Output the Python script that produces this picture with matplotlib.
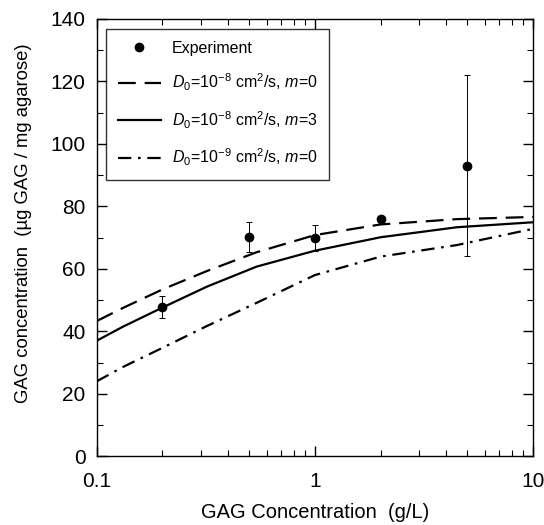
import matplotlib.pyplot as plt
import numpy as np

plt.rcParams['font.family'] = ['Liberation Sans', 'DejaVu Sans']
plt.rcParams['mathtext.fontset'] = 'custom'
plt.rcParams['mathtext.rm'] = 'Liberation Sans'
plt.rcParams['mathtext.it'] = 'Liberation Sans:italic'

# experimental points
exp_x = [0.2, 0.5, 1.0, 2.0, 5.0]
exp_y = [47.8, 70.3, 70.0, 76.0, 93.0]
exp_lo = [3.4, 5.0, 4.2, 1.0, 29.0]
exp_hi = [3.4, 4.7, 4.1, 1.0, 29.0]

# model curves
curve_x = [0.1, 0.132, 0.2, 0.32, 0.54, 1.0, 2.0, 4.47, 10.0]
dash_y = [43.3, 47.5, 53.4, 59.3, 65.3, 70.8, 74.2, 75.9, 76.6]
solid_y = [37.0, 41.5, 47.6, 54.3, 60.7, 65.8, 70.1, 73.3, 74.9]
dashdot_y = [24.0, 28.6, 34.7, 41.7, 49.1, 58.0, 63.9, 67.6, 72.8]

labels = ['Experiment',
          r'$D_0$=10$^{-8}$ cm$^2$/s, $m$=0',
          r'$D_0$=10$^{-8}$ cm$^2$/s, $m$=3',
          r'$D_0$=10$^{-9}$ cm$^2$/s, $m$=0']

fig = plt.figure(figsize=(5.44, 5.25), dpi=100)
ax = fig.add_axes([0.178, 0.131, 0.802, 0.833])

eb = ax.errorbar(exp_x, exp_y, yerr=[exp_lo, exp_hi], fmt='o', color='black',
                 markersize=6, elinewidth=0.7, capsize=2.5, capthick=0.7, zorder=5)
l1, = ax.plot(curve_x, dash_y, color='black', lw=1.6, dashes=(8, 4))
l2, = ax.plot(curve_x, solid_y, color='black', lw=1.6)
l3, = ax.plot(curve_x, dashdot_y, color='black', lw=1.6, dashes=(6, 3, 1.2, 3))

ax.set_xscale('log')
ax.set_xlim(0.1, 10)
ax.set_ylim(0, 140)
ax.set_yticks(np.arange(0, 141, 20))
ax.set_yticks(np.arange(0, 141, 10), minor=True)
ax.set_xticks([0.1, 1, 10])
ax.set_xticklabels(['0.1', '1', '10'])

ax.tick_params(which='both', direction='in', top=True, right=True, labelsize=15)
ax.tick_params(axis='x', which='both', pad=11)
ax.tick_params(axis='y', which='both', pad=8)
ax.tick_params(which='major', length=7, width=1)
ax.tick_params(which='minor', length=4, width=0.8)
for s in ax.spines.values():
    s.set_linewidth(1.0)

ax.set_xlabel('GAG Concentration  (g/L)', fontsize=14.5, labelpad=9)
ax.set_ylabel('GAG concentration  (µg GAG / mg agarose)', fontsize=13.3)
ax.yaxis.set_label_coords(-0.149, 0.533)

leg = ax.legend([eb[0], l1, l2, l3], labels, loc='upper left', fontsize=11.5,
                frameon=True, fancybox=False, edgecolor='black', handlelength=2.7,
                handletextpad=0.7, labelspacing=1.0, borderpad=0.75,
                borderaxespad=0, bbox_to_anchor=(0.02, 0.977))
leg.get_frame().set_linewidth(1.0)

fig.savefig('out.png', dpi=100)
